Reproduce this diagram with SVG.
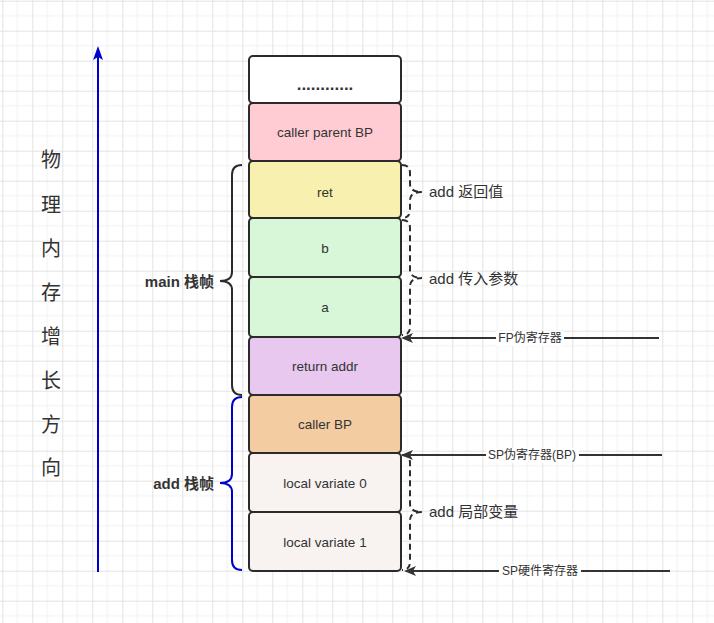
<svg xmlns="http://www.w3.org/2000/svg" width="714" height="623" viewBox="0 0 714 623">
<defs>
<pattern id="grid" patternUnits="userSpaceOnUse" x="2.3" y="0.7" width="30" height="30">
<path d="M15 0V30M0 15H30" stroke="#f1f1f1" stroke-width="1" fill="none"/>
<path d="M0.5 0V30M0 0.5H30" stroke="#e3e3e3" stroke-width="1" fill="none"/>
</pattern>
<path id="ah" d="M0,0 L12,-5 L9,0 L12,5 Z" fill="#333"/>
</defs>
<style>
.box{stroke:#2b2b2b;stroke-width:2}
.t{font-family:"Liberation Sans","Noto Sans CJK SC",sans-serif;fill:#333;text-anchor:middle;dominant-baseline:central}
.bt{font-size:13.5px}
.lbl{font-family:"Liberation Sans","Noto Sans CJK SC",sans-serif;fill:#333;font-size:15px;dominant-baseline:central}
.bold{font-weight:bold;text-anchor:end}
.vert{font-family:"Noto Sans CJK SC",sans-serif;fill:#333;font-size:20px;text-anchor:middle;dominant-baseline:central}
.brace{fill:none;stroke:#2b2b2b;stroke-width:2}
.dash{fill:none;stroke:#2b2b2b;stroke-width:2;stroke-dasharray:6 4}
.conn{stroke:#333;stroke-width:2;fill:none}
.ct{font-family:"Liberation Sans","Noto Sans CJK SC",sans-serif;fill:#333;font-size:12px;text-anchor:middle;dominant-baseline:central}
</style>
<rect width="714" height="623" fill="#ffffff"/>
<rect width="714" height="623" fill="url(#grid)"/>

<g id="axis">
<line x1="98" y1="572" x2="98" y2="57" stroke="#0000cc" stroke-width="2"/>
<path d="M98,46 L103,60 L98,57 L93,60 Z" fill="#0000cc"/>
</g>
<g id="axis-label">
<text class="vert" x="51" y="158">物</text>
<text class="vert" x="51" y="203">理</text>
<text class="vert" x="51" y="247">内</text>
<text class="vert" x="51" y="291">存</text>
<text class="vert" x="51" y="335">增</text>
<text class="vert" x="51" y="379">长</text>
<text class="vert" x="51" y="423">方</text>
<text class="vert" x="51" y="466">向</text>
</g>

<g id="n-dots"><rect class="box" x="249" y="56" width="152" height="47" rx="4" fill="#ffffff"/><text class="t" x="325" y="84" font-size="17" font-weight="bold">............</text></g>
<g id="n-cpbp"><rect class="box" x="249" y="103" width="152" height="58" rx="4" fill="#ffccd3"/><text class="t bt" x="325" y="132">caller parent BP</text></g>
<g id="n-ret"><rect class="box" x="249" y="161" width="152" height="57" rx="4" fill="#f7f0ae"/><text class="t bt" x="325" y="192">ret</text></g>
<g id="n-b"><rect class="box" x="249" y="218" width="152" height="59" rx="4" fill="#d8f7d8"/><text class="t bt" x="325" y="248">b</text></g>
<g id="n-a"><rect class="box" x="249" y="277" width="152" height="60" rx="4" fill="#d8f7d8"/><text class="t bt" x="325" y="307">a</text></g>
<g id="n-raddr"><rect class="box" x="249" y="337" width="152" height="58" rx="4" fill="#e8c8ef"/><text class="t bt" x="325" y="366">return addr</text></g>
<g id="n-cbp"><rect class="box" x="249" y="395" width="152" height="58" rx="4" fill="#f4cca2"/><text class="t bt" x="325" y="424">caller BP</text></g>
<g id="n-l0"><rect class="box" x="249" y="453" width="152" height="59" rx="4" fill="#f8f3f1"/><text class="t bt" x="325" y="483">local variate 0</text></g>
<g id="n-l1"><rect class="box" x="249" y="512" width="152" height="59" rx="4" fill="#f8f3f1"/><text class="t bt" x="325" y="542">local variate 1</text></g>

<g id="main-frame">
<path class="brace" d="M242,165 Q232,165 232,175 L232,272 Q232,281 220,281 Q232,281 232,290 L232,385 Q232,395 242,395"/>
<text class="lbl bold" x="214" y="281">main 栈帧</text>
</g>
<g id="add-frame">
<path class="brace" style="stroke:#0000cc" d="M242,397 Q232,397 232,407 L232,474 Q232,483 220,483 Q232,483 232,492 L232,560 Q232,570 242,570"/>
<text class="lbl bold" x="214" y="483">add 栈帧</text>
</g>
<g id="ret-brace">
<path class="dash" d="M402,165 Q410,165 410,173 L410,184 Q410,192 422,192 Q410,192 410,200 L410,210 Q410,218 402,218"/>
<text class="lbl" x="429" y="191">add 返回值</text>
</g>
<g id="args-brace">
<path class="dash" d="M402,220 Q410,220 410,228 L410,270 Q410,278 422,278 Q410,278 410,286 L410,327 Q410,335 402,335"/>
<text class="lbl" x="429" y="278">add 传入参数</text>
</g>
<g id="locals-brace">
<path class="dash" d="M402,455 Q410,455 410,463 L410,504 Q410,512 422,512 Q410,512 410,520 L410,562 Q410,570 402,570"/>
<text class="lbl" x="429" y="511">add 局部变量</text>
</g>

<g id="connectors">
<line class="conn" x1="659" y1="338" x2="410" y2="338"/>
<use href="#ah" x="401" y="338"/>
<line class="conn" x1="662" y1="455" x2="410" y2="455"/>
<use href="#ah" x="401" y="455"/>
<line class="conn" x1="670" y1="571" x2="413" y2="571"/>
<use href="#ah" x="404" y="571"/>
<rect x="496" y="331" width="68" height="15" fill="#ffffff"/>
<text class="ct" x="530" y="338">FP伪寄存器</text>
<rect x="486" y="448" width="93" height="15" fill="#ffffff"/>
<text class="ct" x="532" y="455">SP伪寄存器(BP)</text>
<rect x="499" y="564" width="82" height="15" fill="#ffffff"/>
<text class="ct" x="540" y="571">SP硬件寄存器</text>
</g>
</svg>
